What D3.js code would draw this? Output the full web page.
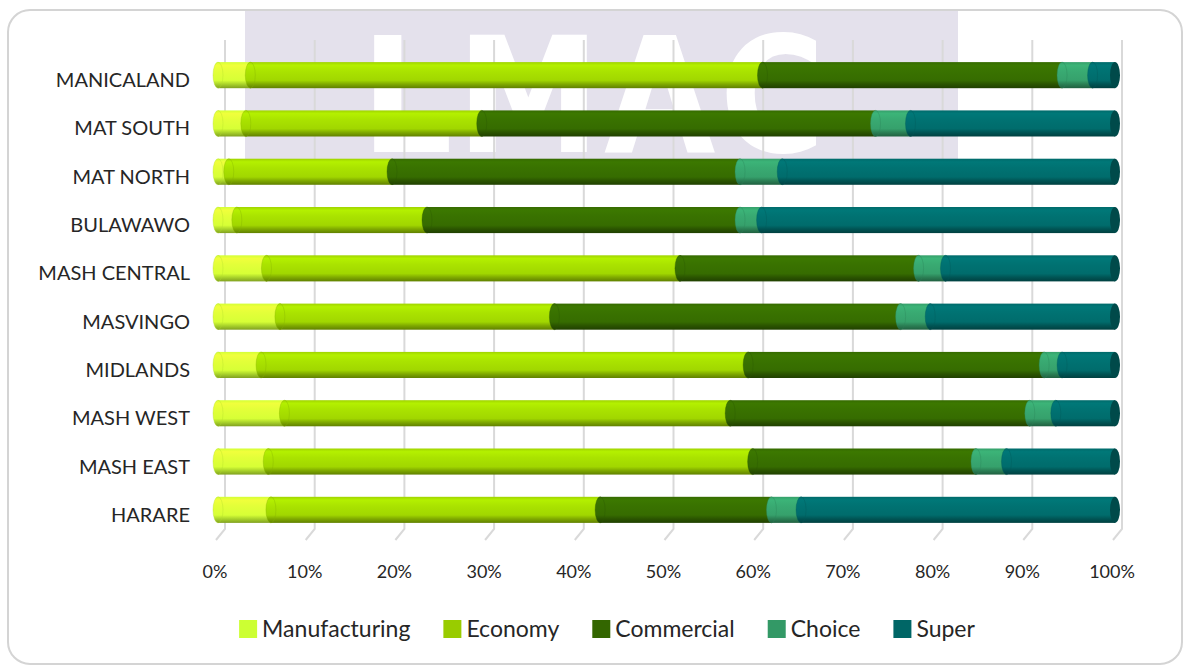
<!DOCTYPE html>
<html>
<head>
<meta charset="utf-8">
<script src="https://cdn.jsdelivr.net/npm/d3@7"></script>
<style>
  html, body { margin: 0; padding: 0; background: #fff; }
  svg { display: block; }
  text { font-family: Lato, "Open Sans", sans-serif; fill: #262626; }
</style>
</head>
<body>
<div id="chart"></div>
<script>
const WIDTH = 1188;
const HEIGHT = 667;

// data (share of each grade, %)
const regions = ["MANICALAND", "MAT SOUTH", "MAT NORTH", "BULAWAWO", "MASH CENTRAL",
                 "MASVINGO", "MIDLANDS", "MASH WEST", "MASH EAST", "HARARE"];
const grades = ["Manufacturing", "Economy", "Commercial", "Choice", "Super"];
const manufacturing = [3.6, 3.1, 1.2, 2.1, 5.4, 6.9, 4.8, 7.4, 5.6, 5.9];
const economy       = [57.1, 26.3, 18.2, 21.2, 46.1, 30.6, 54.3, 49.7, 54.0, 36.7];
const commercial    = [33.4, 43.9, 38.8, 34.9, 26.6, 38.6, 33.0, 33.4, 24.9, 19.1];
const choice        = [3.4, 3.9, 4.7, 2.4, 3.0, 3.3, 2.0, 2.9, 3.4, 3.3];
const superGrade    = [2.5, 22.8, 37.1, 39.4, 18.9, 20.6, 5.9, 6.6, 12.1, 35.0];
const ticks = [0, 10, 20, 30, 40, 50, 60, 70, 80, 90, 100];
const gradeColors = ["#ccff33", "#99cc00", "#336600", "#339966", "#006666"];

const seriesValues = [manufacturing, economy, commercial, choice, superGrade];
const table = regions.map((r, i) => {
  const row = {region: r};
  grades.forEach((g, j) => row[g] = seriesValues[j][i]);
  return row;
});

const svg = d3.select("#chart").append("svg")
  .attr("width", WIDTH).attr("height", HEIGHT);

const defs = svg.append("defs");

// outer frame
svg.append("rect")
  .attr("x", 8).attr("y", 10).attr("width", 1174).attr("height", 654)
  .attr("rx", 22)
  .attr("fill", "#fff").attr("stroke", "#d4d4d4").attr("stroke-width", 2);

// watermark
defs.append("clipPath").attr("id", "wm")
  .append("rect").attr("x", 245).attr("y", 11).attr("width", 713).attr("height", 149);
const wm = svg.append("g").attr("clip-path", "url(#wm)");
wm.append("rect").attr("x", 245).attr("y", 11).attr("width", 713).attr("height", 149)
  .attr("fill", "#e4e1ec");
wm.append("text")
  .attr("x", 595).attr("y", 152)
  .attr("text-anchor", "middle")
  .style("font-family", "'DejaVu Sans Condensed', 'DejaVu Sans', sans-serif")
  .style("font-weight", "bold")
  .style("font-size", "160px")
  .style("letter-spacing", "4px")
  .style("fill", "#ffffff")
  .text("LMAC");

// scales
const x = d3.scaleLinear().domain([0, 100]).range([218, 1115]);
const y = d3.scaleBand().domain(regions).range([51, 534])
  .paddingInner(0.46).paddingOuter(0.23);

// back-wall gridlines (offset for the 3D depth)
const depth = 7;
svg.append("g").selectAll("path")
  .data(ticks)
  .join("path")
  .attr("d", t => `M${x(t) + depth},40 V529 L${x(t) - 2},540`)
  .attr("fill", "none")
  .attr("stroke", "#d9d9d9")
  .attr("stroke-width", 2);

// cylinder shading
grades.forEach((g, j) => {
  const base = d3.color(gradeColors[j]);
  const grad = defs.append("linearGradient")
    .attr("id", "g" + j).attr("x1", 0).attr("y1", 0).attr("x2", 0).attr("y2", 1);
  [[0, base.brighter(0.1)], [0.12, base.brighter(0.45)], [0.35, base.brighter(0.3)],
   [0.7, base.brighter(0.15)], [0.84, base.darker(0.5)], [1, base.darker(1.3)]]
    .forEach(([o, c]) => grad.append("stop").attr("offset", o).attr("stop-color", c));
});

const stack = d3.stack().keys(grades);
const layers = stack(table);
const bh = y.bandwidth();
const capR = 5;

const rows = svg.append("g").selectAll("g")
  .data(regions)
  .join("g");

rows.each(function(r, i) {
  const gRow = d3.select(this);
  layers.forEach((layer, j) => {
    const [v0, v1] = layer[i];
    if (v1 - v0 <= 0) return;
    gRow.append("rect")
      .attr("x", x(v0)).attr("y", y(r))
      .attr("width", x(v1) - x(v0)).attr("height", bh)
      .attr("fill", `url(#g${j})`);
    gRow.append("ellipse")
      .attr("cx", x(v0)).attr("cy", y(r) + bh / 2)
      .attr("rx", capR).attr("ry", bh / 2)
      .attr("fill", `url(#g${j})`)
      .attr("stroke", d3.color(gradeColors[j]).darker(0.4))
      .attr("stroke-opacity", 0.35)
      .attr("stroke-width", 1);
  });
  const last = layers.length - 1;
  gRow.append("ellipse")
    .attr("cx", x(layers[last][i][1])).attr("cy", y(r) + bh / 2)
    .attr("rx", capR).attr("ry", bh / 2)
    .attr("fill", d3.color(gradeColors[last]).darker(0.9));
});

// category labels
svg.append("g").selectAll("text")
  .data(regions)
  .join("text")
  .attr("x", 190)
  .attr("y", d => y(d) + bh / 2 + 5)
  .attr("dy", "0.35em")
  .attr("text-anchor", "end")
  .style("font-size", "20px")
  .text(d => d);

// tick labels
svg.append("g").selectAll("text")
  .data(ticks)
  .join("text")
  .attr("x", d => x(d) - 3)
  .attr("y", 572)
  .attr("dy", "0.35em")
  .attr("text-anchor", "middle")
  .style("font-size", "18px")
  .text(d => d + "%");

// legend
const legend = svg.append("g");
let lx = 0;
grades.forEach((g, j) => {
  const item = legend.append("g").attr("transform", `translate(${lx},0)`);
  item.append("rect")
    .attr("x", 0).attr("y", -9).attr("width", 18).attr("height", 18)
    .attr("fill", gradeColors[j]);
  const t = item.append("text")
    .attr("x", 23).attr("dy", "0.35em")
    .style("font-size", "23px")
    .text(g);
  lx += 23 + t.node().getComputedTextLength() + 33;
});
const legendW = lx - 33;
legend.attr("transform", `translate(${607 - legendW / 2},629)`);
</script>
</body>
</html>
